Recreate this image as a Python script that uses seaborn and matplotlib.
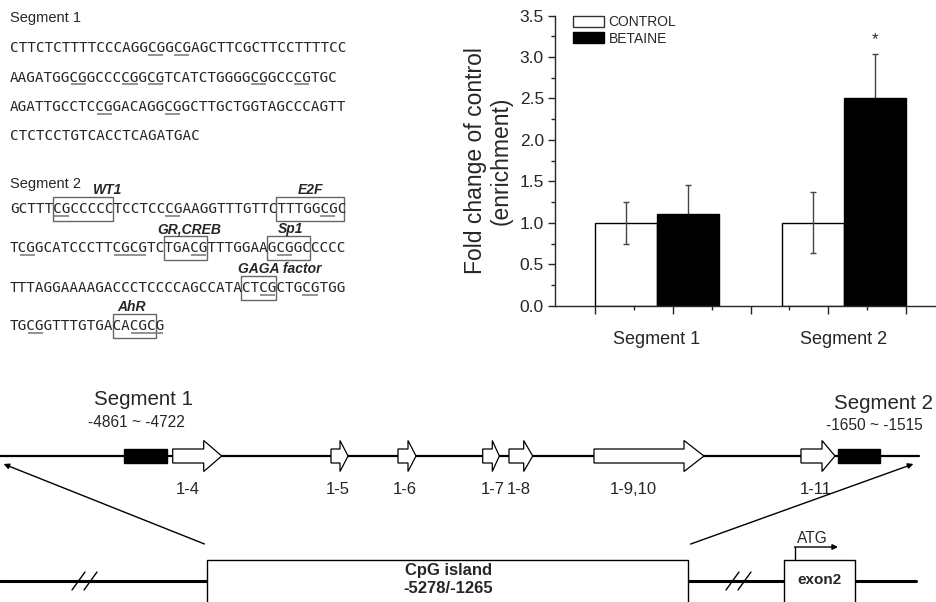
import pandas as pd
import seaborn as sns
import matplotlib.pyplot as plt
from matplotlib.patches import Rectangle, FancyArrow, Patch
from matplotlib.ticker import MultipleLocator, FormatStrFormatter, FixedLocator

sns.set_style("ticks")
plt.rcParams["font.family"] = ["Liberation Sans", "DejaVu Sans"]

# ---- bar chart data ----
segments = ["Segment 1", "Segment 2"]
treatments = ["CONTROL", "BETAINE"]
fold_control = [1.00, 1.00]
fold_betaine = [1.10, 2.51]
err_control = [0.25, 0.37]
err_betaine = [0.36, 0.52]
star_y = 3.21

# ---- sequences ----
seg1_lines = [
    "CTTCTCTTTTCCCAGGCGGCGAGCTTCGCTTCCTTTTCC",
    "AAGATGGCGGCCCCGGCGTCATCTGGGGCGGCCCGTGC",
    "AGATTGCCTCCGGACAGGCGGCTTGCTGGTAGCCCAGTT",
    "CTCTCCTGTCACCTCAGATGAC",
]
seg1_cpg = [[(16, 2), (19, 2)],
            [(7, 2), (13, 2), (16, 2), (28, 2), (33, 2)],
            [(10, 2), (18, 2)],
            []]
seg2_lines = [
    "GCTTTCGCCCCCTCCTCCCGAAGGTTTGTTCTTTGGCGC",
    "TCGGCATCCCTTCGCGTCTGACGTTTGGAAGCGGCCCCC",
    "TTTAGGAAAAGACCCTCCCCAGCCATACTCGCTGCGTGG",
    "TGCGGTTTGTGACACGCG",
]
seg2_cpg = [[(5, 2), (18, 2), (36, 2)],
            [(1, 2), (12, 4), (21, 2), (31, 2)],
            [(29, 2), (34, 2)],
            [(2, 2), (14, 4)]]
# motif boxes: line, first char, last char, label, label centre (chars)
motif_line = [0, 0, 1, 1, 2, 3]
motif_first = [5, 31, 18, 30, 27, 12]
motif_last = [11, 38, 22, 34, 30, 16]
motif_name = ["WT1", "E2F", "GR,CREB", "Sp1", "GAGA factor", "AhR"]
motif_label_at = [11.4, 35.1, 20.9, 32.7, 31.5, 14.2]

# ---- gene diagram (pixel units) ----
prom_names = ["1-4", "1-5", "1-6", "1-7", "1-8", "1-9,10", "1-11"]
prom_start = [172.7, 331, 398, 482.7, 509, 594, 801]
prom_end = [221.7, 348, 416, 499.3, 532.7, 704, 835]
prom_head = [18, 8, 8, 7, 9, 20, 13]
prom_label_x = [188, 338, 405, 493, 519, 633, 816]
probe_start = [124, 838]
probe_end = [167, 880]

fig = plt.figure(figsize=(9.36, 6.02), dpi=100)

# full-figure canvas in pixels
ax_d = fig.add_axes([0, 0, 1, 1])
ax_d.set_xlim(0, 936)
ax_d.set_ylim(602, 0)
ax_d.axis("off")

mono = "DejaVu Sans Mono"
seq_fs = 10.25
cw = 0.6021 * seq_fs * 100 / 72
x0 = 10


def draw_seq(lines, cpgs, baselines):
    for line, cpg, yb in zip(lines, cpgs, baselines):
        ax_d.text(x0, yb, line, family=mono, fontsize=seq_fs, va="baseline", ha="left")
        for s, n in cpg:
            ax_d.plot([x0 + s * cw + 1, x0 + (s + n) * cw - 1], [yb + 2.5, yb + 2.5],
                      color="#808080", lw=1.2, solid_capstyle="butt")


seg1_base = [52, 81.5, 111, 140]
seg2_base = [213, 252, 292, 330]
ax_d.text(10, 22, "Segment 1", fontsize=10.5, va="baseline")
ax_d.text(10, 188, "Segment 2", fontsize=10.5, va="baseline")
draw_seq(seg1_lines, seg1_cpg, seg1_base)
draw_seq(seg2_lines, seg2_cpg, seg2_base)

for li, a, b, name, lx in zip(motif_line, motif_first, motif_last, motif_name, motif_label_at):
    yb = seg2_base[li]
    ax_d.add_patch(Rectangle((x0 + a * cw, yb - 16), (b - a + 1) * cw, 24,
                             fill=False, edgecolor="#666666", lw=1))
    ax_d.text(x0 + lx * cw, yb - 19, name, fontsize=10, weight="bold", style="italic",
              ha="center", va="baseline")

# main line with promoters and probes
ax_d.plot([0, 919], [456, 456], color="black", lw=1.6, zorder=1)
for s, e in zip(probe_start, probe_end):
    ax_d.add_patch(Rectangle((s, 449), e - s, 14, facecolor="black", edgecolor="black", zorder=3))
for s, e, h, name, lx in zip(prom_start, prom_end, prom_head, prom_names, prom_label_x):
    ax_d.add_patch(FancyArrow(s, 456, e - s, 0, width=14, head_width=31, head_length=h,
                              length_includes_head=True, facecolor="white",
                              edgecolor="black", lw=0.9, zorder=3))
    ax_d.text(lx, 494, name, fontsize=12, ha="center", va="baseline")

ax_d.text(143, 405, "Segment 1", fontsize=14.8, ha="center", va="baseline")
ax_d.text(136, 427, "-4861 ~ -4722", fontsize=11.2, ha="center", va="baseline")
ax_d.text(834, 409, "Segment 2", fontsize=14.8, ha="left", va="baseline")
ax_d.text(874, 430, "-1650 ~ -1515", fontsize=11.2, ha="center", va="baseline")

# zoom arrows
ax_d.annotate("", xy=(1, 463), xytext=(207, 545),
              arrowprops=dict(arrowstyle="-|>", color="black", lw=1, mutation_scale=8))
ax_d.annotate("", xy=(916, 463), xytext=(688, 545),
              arrowprops=dict(arrowstyle="-|>", color="black", lw=1, mutation_scale=8))

# bottom line with CpG island and exon2
for a, b in [(0, 207), (688, 784), (855, 916)]:
    ax_d.plot([a, b], [581, 581], color="black", lw=2.2, zorder=1)
for bx in [72, 84, 726, 738]:
    ax_d.plot([bx, bx + 13], [590, 572], color="black", lw=1, zorder=2)
ax_d.add_patch(Rectangle((207, 560), 481, 60, facecolor="white", edgecolor="black", lw=1, zorder=3))
ax_d.add_patch(Rectangle((784, 560), 71, 60, facecolor="white", edgecolor="black", lw=1, zorder=3))
ax_d.text(449, 575, "CpG island", fontsize=12, weight="bold", ha="center", va="baseline", zorder=4)
ax_d.text(448, 593, "-5278/-1265", fontsize=12, weight="bold", ha="center", va="baseline", zorder=4)
ax_d.text(820, 584, "exon2", fontsize=11, weight="bold", ha="center", va="baseline", zorder=4)
ax_d.text(812, 543, "ATG", fontsize=11.2, ha="center", va="baseline")
ax_d.plot([795, 795], [560, 547], color="black", lw=1)
ax_d.annotate("", xy=(838, 547), xytext=(794.5, 547),
              arrowprops=dict(arrowstyle="-|>", color="black", lw=1, mutation_scale=8,
                              shrinkA=0, shrinkB=0))

# ---- bar chart ----
df = pd.DataFrame({
    "segment": segments * 2,
    "treatment": [treatments[0]] * 2 + [treatments[1]] * 2,
    "fold": fold_control + fold_betaine,
})

ax = fig.add_axes([555 / 936, 1 - 305.7 / 602, 381 / 936, 290.2 / 602])
ax.patch.set_alpha(0)
sns.barplot(data=df, x="segment", y="fold", hue="treatment", order=segments,
            hue_order=treatments, palette={"CONTROL": "white", "BETAINE": "black"},
            edgecolor="black", linewidth=1, width=0.664, errorbar=None, legend=False, ax=ax)

ctrl_bars, bet_bars = ax.containers[0], ax.containers[1]
cx = [p.get_x() + p.get_width() / 2 for p in ctrl_bars]
bx = [p.get_x() + p.get_width() / 2 for p in bet_bars]
ax.errorbar(cx, fold_control, yerr=err_control, fmt="none", ecolor="#444444",
            elinewidth=1, capsize=2.5, capthick=1, zorder=5)
ax.errorbar(bx, fold_betaine, yerr=err_betaine, fmt="none", ecolor="#444444",
            elinewidth=1, capsize=2.5, capthick=1, zorder=0.5)
ax.text(bx[1], star_y, "*", ha="center", va="center", fontsize=12)

ax.set_xlim(-0.545, 1.492)
ax.set_ylim(0, 3.5)
sns.despine(ax=ax)
ax.spines["left"].set_linewidth(1)
ax.spines["bottom"].set_linewidth(1)

ax.yaxis.set_major_locator(MultipleLocator(0.5))
ax.yaxis.set_minor_locator(MultipleLocator(0.25))
ax.yaxis.set_major_formatter(FormatStrFormatter("%.1f"))
ax.tick_params(axis="y", which="major", length=5, width=1, labelsize=12.5, pad=3, direction="out")
ax.tick_params(axis="y", which="minor", length=3, width=1, direction="out")

ax.xaxis.set_major_locator(FixedLocator([-0.332, 0.087, 0.501, 0.914, 1.332]))
ax.xaxis.set_minor_locator(FixedLocator([-0.121, 0.293, 0.706, 1.123]))
ax.set_xticklabels([])
ax.tick_params(axis="x", which="major", length=6, width=1, direction="out")
ax.tick_params(axis="x", which="minor", length=3, width=1, direction="out")
for i, name in enumerate(segments):
    ax.text(i, -0.118, name, transform=ax.get_xaxis_transform(), ha="center",
            va="center", fontsize=13)

ax.set_xlabel("")
ax.set_ylabel("Fold change of control\n(enrichment)", fontsize=16.5, va="center",
              linespacing=1.15)
ax.yaxis.set_label_coords(-0.175, 0.5)

ax.legend(handles=[Patch(facecolor="white", edgecolor="#333333", lw=1, label="CONTROL"),
                   Patch(facecolor="black", edgecolor="black", lw=1, label="BETAINE")],
          loc="upper left", bbox_to_anchor=(0.046, 1.0), frameon=False, fontsize=10,
          handlelength=2.3, handleheight=0.85, handletextpad=0.3, labelspacing=0.15,
          borderpad=0, borderaxespad=0)

fig.savefig("out.png", dpi=100)
